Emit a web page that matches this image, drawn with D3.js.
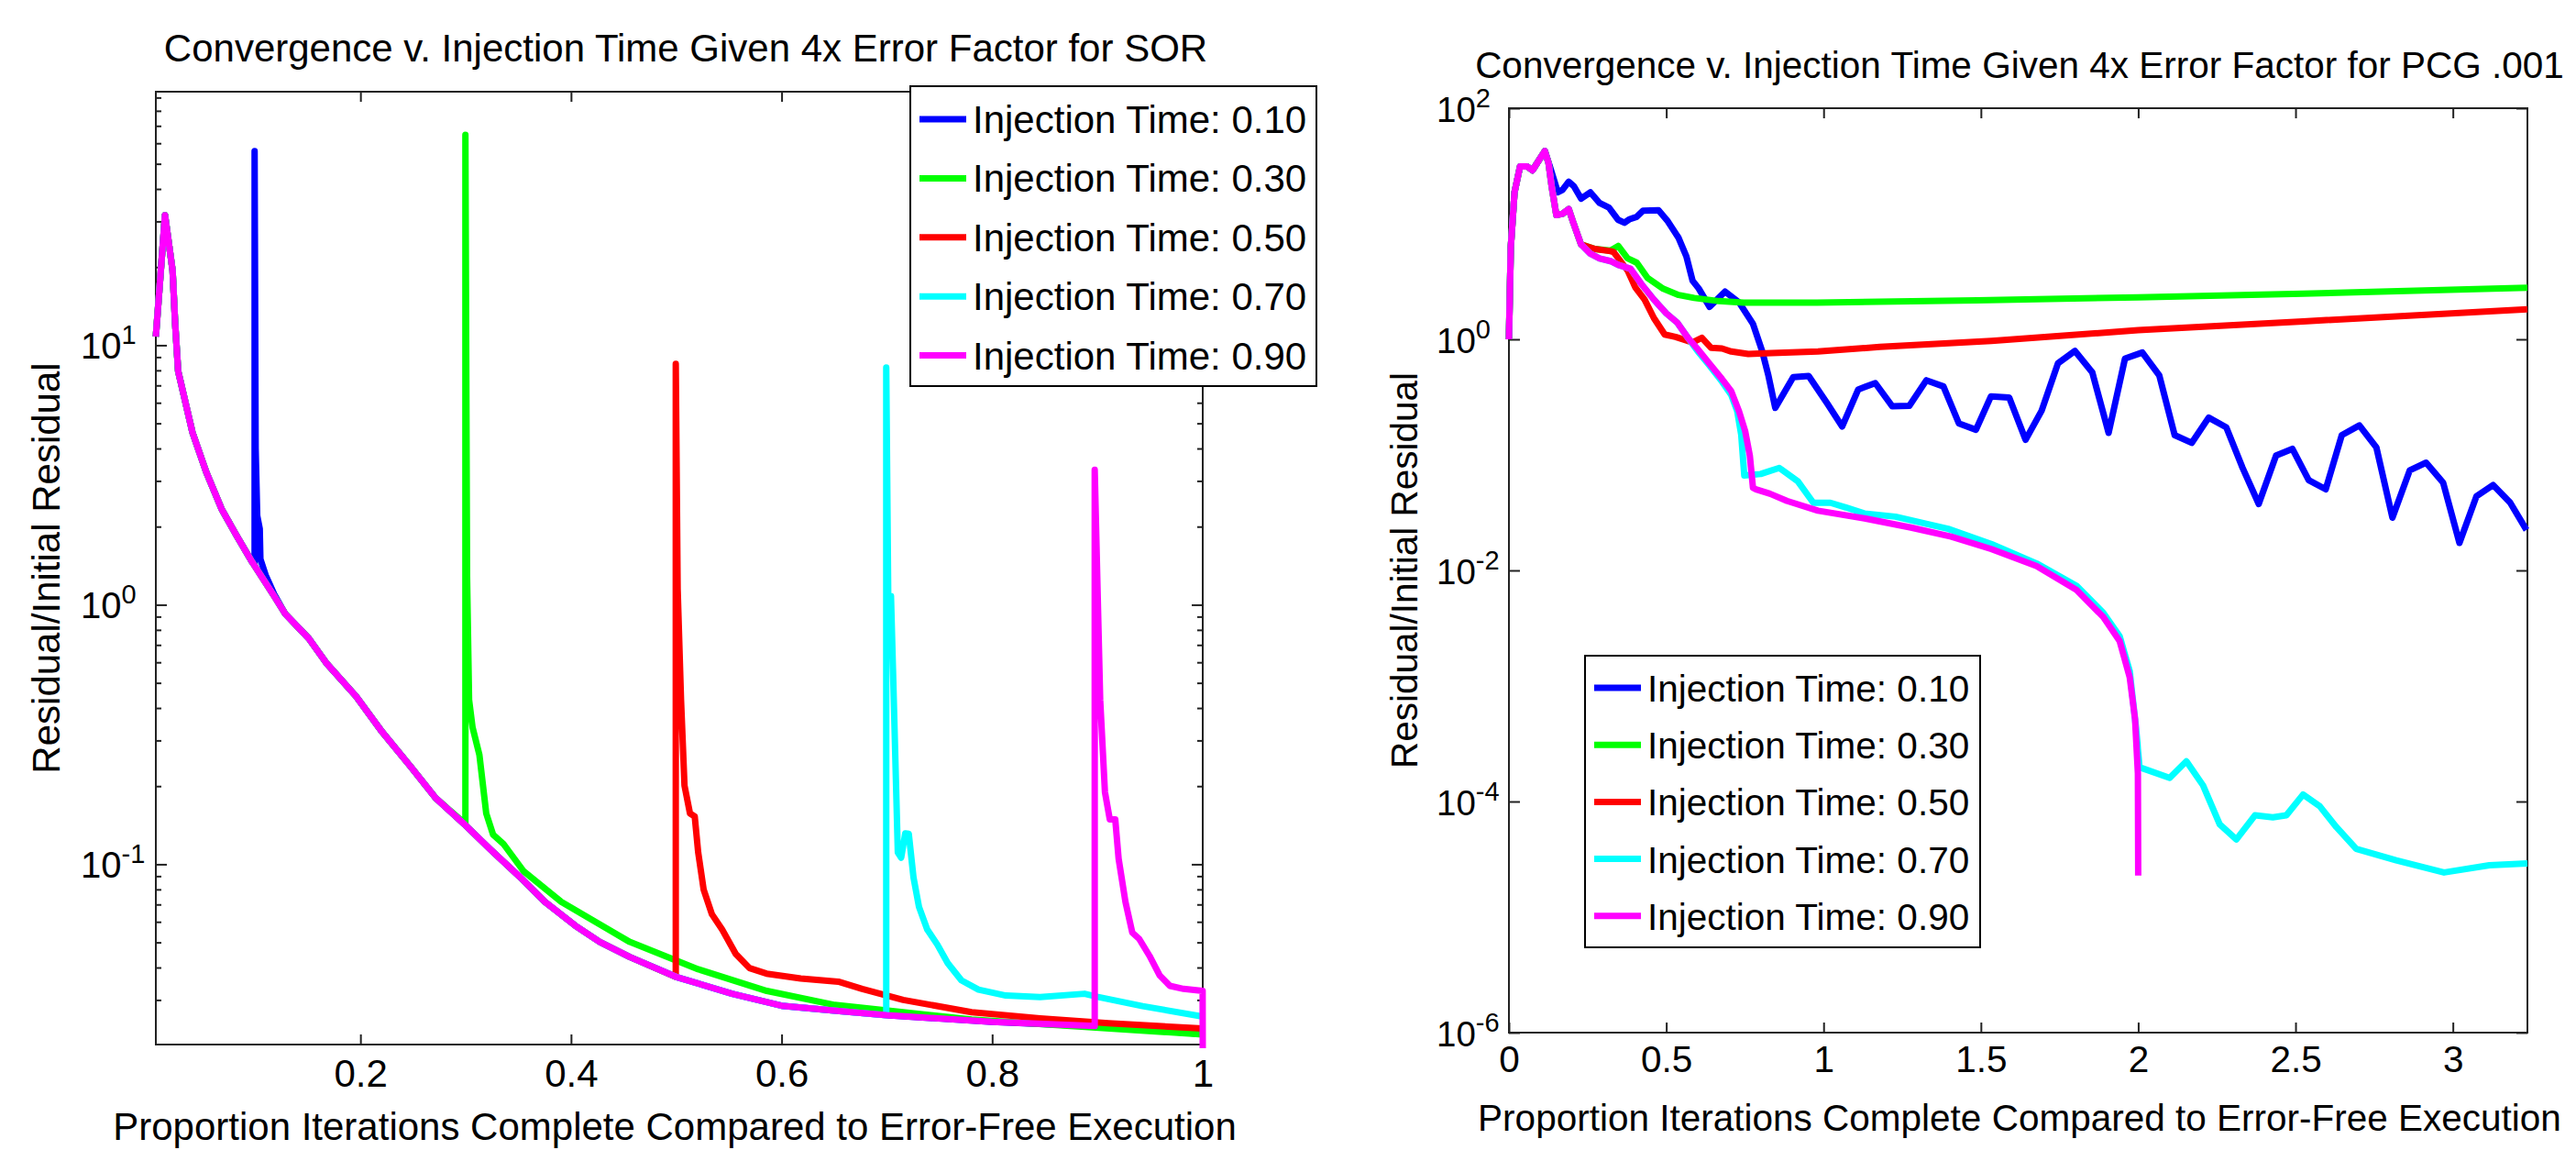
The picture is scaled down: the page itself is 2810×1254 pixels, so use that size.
<!DOCTYPE html>
<html>
<head>
<meta charset="utf-8">
<script src="https://cdn.jsdelivr.net/npm/d3@7"></script>
<style>
body{margin:0;background:#fff;}
svg text{font-family:"Liberation Sans",Arial,Helvetica,sans-serif;fill:#000;}
</style>
</head>
<body>
<div id="chart"></div>
<script>
// ---- datos ----
var legendLabels = ["Injection Time: 0.10","Injection Time: 0.30","Injection Time: 0.50","Injection Time: 0.70","Injection Time: 0.90"];
var colors = ["#0000ff","#00ff00","#ff0000","#00ffff","#ff00ff"];

// SOR: curva comun antes de la inyeccion
var sorBase = [[0.0057,10.8],[0.0144,31.7],[0.0216,19.4],[0.024,12.2],[0.0269,7.94],[0.0405,4.61],[0.0536,3.24],[0.0681,2.34],[0.0826,1.84],[0.0972,1.46],[0.118,1.08],[0.1286,0.922],[0.151,0.741],[0.1675,0.597],[0.196,0.443],[0.2195,0.328],[0.248,0.237],[0.2714,0.18],[0.3,0.141],[0.3234,0.114],[0.352,0.0889],[0.3753,0.0716],[0.404,0.058],[0.4273,0.0502],[0.456,0.0439],[0.5,0.0368],[0.553,0.0317],[0.6,0.0285],[0.65,0.0273],[0.7,0.0262],[0.8,0.0247],[0.9,0.0237],[1.0,0.0222]];
var sorInject = [0.0995, 0.2997, 0.4995, 0.6994, 0.8974];
var sorAfter010 = [[0.0995,1.42],[0.0995,56],[0.1005,4.0],[0.102,2.2],[0.1044,1.96],[0.105,1.5],[0.11,1.3],[0.118,1.1]];
var sorAfter030 = [[0.2997,0.143],[0.2997,64.7],[0.3013,1.28],[0.3032,0.43],[0.3065,0.337],[0.313,0.264],[0.3195,0.157],[0.326,0.13],[0.3357,0.12],[0.355,0.094],[0.3909,0.0716],[0.4558,0.0502],[0.5208,0.0394],[0.586,0.0325],[0.6506,0.0287],[0.7805,0.0252],[1.0,0.0221]];
var sorAfter050 = [[0.4995,0.0368],[0.4995,8.47],[0.5013,1.15],[0.5045,0.43],[0.5078,0.201],[0.513,0.157],[0.5175,0.153],[0.5208,0.111],[0.526,0.0798],[0.5338,0.0642],[0.5435,0.0561],[0.5565,0.0451],[0.5695,0.0398],[0.5857,0.0379],[0.6182,0.0363],[0.6539,0.0353],[0.6766,0.0331],[0.7156,0.03],[0.7805,0.0269],[0.8455,0.0255],[0.9104,0.0244],[1.0,0.0233]];
var sorAfter070 = [[0.6994,0.0262],[0.6994,8.2],[0.7013,1.08],[0.7039,1.08],[0.7058,0.565],[0.7104,0.111],[0.7136,0.106],[0.7175,0.1316],[0.7208,0.131],[0.7253,0.0889],[0.7305,0.0685],[0.7383,0.0561],[0.748,0.049],[0.7578,0.0416],[0.7708,0.0357],[0.787,0.0329],[0.813,0.0312],[0.8455,0.0308],[0.8877,0.0317],[0.9006,0.0308],[0.9429,0.0284],[1.0,0.0259]];
var sorAfter090 = [[0.8974,0.0238],[0.8974,3.31],[0.9026,0.43],[0.9071,0.19],[0.9117,0.149],[0.9169,0.149],[0.9201,0.105],[0.9266,0.0716],[0.9331,0.0545],[0.9396,0.0516],[0.9494,0.0444],[0.9591,0.0373],[0.9688,0.034],[0.9818,0.0331],[0.9999,0.0325],[1.0,0.019]];

// PCG: tramo comun y tramos propios
var pcgCommon = [[0,1],[0.0059,6.24],[0.0177,18.7],[0.0354,31.4],[0.0571,31.4],[0.0748,29.0],[0.1142,42.6]];
var pcgShared = [[0.126,33.4],[0.1358,21.1],[0.1506,11.9],[0.1703,12.2],[0.19,13.4],[0.2047,10.2],[0.2293,6.62]];
var pcgBlue = [[0.13,31.4],[0.1555,18.7],[0.17,19.6],[0.19,23.1],[0.2067,21.1],[0.2293,16.5],[0.2589,18.7],[0.2884,15.1],[0.3179,13.8],[0.3474,10.8],[0.3671,10.2],[0.3819,10.9],[0.4065,11.5],[0.4262,13.0],[0.4754,13.1],[0.505,10.5],[0.5394,7.53],[0.564,5.22],[0.5837,3.21],[0.6033,2.75],[0.6378,1.91],[0.687,2.59],[0.7313,2.09],[0.7756,1.36],[0.8051,0.788],[0.8248,0.484],[0.8465,0.255],[0.9035,0.47],[0.9527,0.481],[1.0118,0.278],[1.0591,0.176],[1.1102,0.368],[1.1644,0.418],[1.2185,0.263],[1.2726,0.266],[1.3268,0.442],[1.381,0.391],[1.4301,0.187],[1.4843,0.165],[1.532,0.321],[1.59,0.314],[1.642,0.135],[1.693,0.241],[1.745,0.621],[1.799,0.793],[1.854,0.518],[1.906,0.155],[1.958,0.681],[2.013,0.769],[2.067,0.487],[2.116,0.148],[2.17,0.127],[2.224,0.21],[2.28,0.173],[2.331,0.078],[2.383,0.0376],[2.438,0.0985],[2.49,0.1127],[2.542,0.0604],[2.596,0.0504],[2.647,0.148],[2.703,0.18],[2.757,0.116],[2.808,0.0286],[2.863,0.0735],[2.915,0.0856],[2.969,0.0576],[3.021,0.0173],[3.075,0.0438],[3.128,0.0548],[3.182,0.0387],[3.234,0.0224]];
var pcgGreen = [[0.2736,6.04],[0.3228,5.86],[0.3474,6.43],[0.3769,5.03],[0.4065,4.6],[0.4409,3.39],[0.4902,2.74],[0.5394,2.42],[0.5886,2.28],[0.6673,2.14],[0.746,2.08],[0.979,2.08],[1.487,2.17],[2.0,2.31],[2.524,2.48],[3.237,2.8]];
var pcgRed = [[0.2736,6.04],[0.3228,5.79],[0.3327,5.69],[0.377,3.95],[0.4016,2.82],[0.4311,2.21],[0.4606,1.53],[0.4951,1.1],[0.5295,1.05],[0.5837,0.941],[0.6132,1.03],[0.6427,0.843],[0.6772,0.833],[0.7067,0.784],[0.7608,0.746],[0.8346,0.76],[0.9823,0.784],[1.1791,0.859],[1.5335,0.97],[2.0,1.2],[2.524,1.43],[3.237,1.82]];
var pcgSlow = [[0.2589,5.5],[0.2884,5.0],[0.3228,4.75],[0.3474,4.4],[0.3868,4.07],[0.4213,3.0],[0.4606,2.21],[0.5,1.68],[0.5344,1.4],[0.5689,1.03]];
var pcgCyan = [[0.5984,0.8],[0.6378,0.59],[0.6772,0.43],[0.7067,0.33],[0.7254,0.24],[0.7382,0.15],[0.748,0.0662],[0.8,0.0683],[0.8593,0.0771],[0.9183,0.059],[0.9675,0.0385],[1.0217,0.0385],[1.0709,0.0351],[1.13,0.0311],[1.2284,0.0292],[1.3957,0.0229],[1.5335,0.0169],[1.677,0.0115],[1.804,0.00737],[1.889,0.0043],[1.941,0.0027],[1.973,0.00134],[1.994,0.00041],[2.004,0.000198],[2.1,0.00016],[2.153,0.000223],[2.206,0.000138],[2.259,0.0000634],[2.312,0.000047],[2.371,0.000076],[2.428,0.000073],[2.471,0.000076],[2.524,0.000115],[2.577,0.000091],[2.63,0.00006],[2.693,0.000039],[2.82,0.000031],[2.972,0.0000243],[3.116,0.0000281],[3.237,0.0000291]];
var pcgMagenta = [[0.5984,0.833],[0.6378,0.614],[0.6772,0.453],[0.7067,0.355],[0.7313,0.238],[0.751,0.16],[0.7657,0.0985],[0.7756,0.0519],[0.7854,0.0503],[0.8297,0.0461],[0.8839,0.0399],[0.9823,0.0329],[1.13,0.0282],[1.2776,0.0235],[1.4055,0.0196],[1.5335,0.0153],[1.677,0.0109],[1.804,0.00678],[1.889,0.00395],[1.941,0.00245],[1.973,0.00119],[1.99,0.000516],[1.999,0.000175],[2.0,0.0000229]];

var sorXTicks = [0.2,0.4,0.6,0.8,1];
var sorYTicks = [0.1,1,10];
var pcgXTicks = [0,0.5,1,1.5,2,2.5,3];
var pcgYTicks = [1e-6,1e-4,1e-2,1,100];

// ---- montaje de series ----
function sorSeries(t, after){
    var last = after[after.length-1][0];
    return sorBase.filter(d=>d[0] < t).concat(after).concat(sorBase.filter(d=>d[0] > last));
}
var sorData = [sorAfter010,sorAfter030,sorAfter050,sorAfter070,sorAfter090].map((a,i)=>sorSeries(sorInject[i],a));

var pcgData = [
    pcgCommon.concat(pcgBlue),
    pcgCommon.concat(pcgShared,pcgGreen),
    pcgCommon.concat(pcgShared,pcgRed),
    pcgCommon.concat(pcgShared,pcgSlow,pcgCyan),
    pcgCommon.concat(pcgShared,pcgSlow,pcgMagenta)
];

var svg = d3.select('#chart').append('svg').attr('width',2810).attr('height',1254);

function panel(p){
    var x = d3.scaleLinear().domain(p.xDomain).range([p.left,p.right]);
    var y = d3.scaleLog().domain(p.yDomain).range([p.bottom,p.top]);
    var g = svg.append('g');
    var fs = p.fs;

    //Marco
    g.append('rect')
        .attr('x',p.left).attr('y',p.top)
        .attr('width',p.right-p.left).attr('height',p.bottom-p.top)
        .attr('fill','none').attr('stroke','#222').attr('stroke-width',2);

    //Ticks (hacia dentro)
    var minor = [];
    if(p.minor){
        var lo = Math.floor(Math.log10(p.yDomain[0])), hi = Math.ceil(Math.log10(p.yDomain[1]));
        for(var e=lo;e<hi;e++) for(var k=2;k<10;k++){
            var v = k*Math.pow(10,e);
            if(v>p.yDomain[0] && v<p.yDomain[1]) minor.push(v);
        }
    }
    function ax(axis, tr){
        var a = g.append('g').attr('transform',tr).call(axis);
        a.select('.domain').remove();
        a.selectAll('line').attr('stroke','#222').attr('stroke-width',2);
        return a;
    }
    ax(d3.axisBottom(x).tickValues(p.xTicks).tickSize(-11).tickSizeOuter(0).tickPadding(p.xPad).tickFormat(d=>String(d)), 'translate(0,'+p.bottom+')')
        .selectAll('text').attr('font-size',fs).attr('fill','#000').attr('font-family','"Liberation Sans",Arial,sans-serif');
    ax(d3.axisTop(x).tickValues(p.xTicks).tickSize(-11).tickSizeOuter(0).tickFormat(''), 'translate(0,'+p.top+')');
    ax(d3.axisLeft(y).tickValues(p.yTicks).tickSize(-12).tickSizeOuter(0).tickFormat(''), 'translate('+p.left+',0)');
    ax(d3.axisRight(y).tickValues(p.yTicks).tickSize(-12).tickSizeOuter(0).tickFormat(''), 'translate('+p.right+',0)');
    if(minor.length){
        ax(d3.axisLeft(y).tickValues(minor).tickSize(-6).tickSizeOuter(0).tickFormat(''), 'translate('+p.left+',0)');
        ax(d3.axisRight(y).tickValues(minor).tickSize(-6).tickSizeOuter(0).tickFormat(''), 'translate('+p.right+',0)');
    }

    //Etiquetas eje Y: 10^n
    var yl = g.append('g').selectAll('text').data(p.yTicks).enter()
        .append('text')
        .attr('x',p.yLabX)
        .attr('y',d=>y(d)+15)
        .attr('font-size',fs-2);
    yl.append('tspan').text('10');
    yl.append('tspan').attr('dy',-16).attr('font-size',29).text(d=>Math.round(Math.log10(d)));

    //Lineas
    var clipId = 'clip'+p.id;
    svg.append('clipPath').attr('id',clipId).append('rect')
        .attr('x',p.left-4).attr('y',p.top-4)
        .attr('width',p.right-p.left+8).attr('height',p.bottom-p.top+8);
    var linea = d3.line().x(d=>x(d[0])).y(d=>y(d[1]));
    g.append('g').attr('clip-path','url(#'+clipId+')')
        .selectAll('path').data(p.data).enter()
        .append('path')
        .attr('d',d=>linea(d))
        .attr('fill','none')
        .attr('stroke',(d,i)=>colors[i])
        .attr('stroke-width',7)
        .attr('stroke-linejoin','round');

    //Titulos
    g.append('text').attr('x',p.titleX).attr('y',p.titleY)
        .attr('text-anchor','middle').attr('font-size',fs).text(p.title);
    g.append('text').attr('x',p.xLabelX).attr('y',p.xLabelY)
        .attr('text-anchor','middle').attr('font-size',fs)
        .text('Proportion Iterations Complete Compared to Error-Free Execution');
    g.append('text')
        .attr('transform','translate('+p.yLabelX+','+((p.top+p.bottom)/2)+') rotate(-90)')
        .attr('text-anchor','middle').attr('font-size',fs)
        .text('Residual/Initial Residual');

    //Leyenda
    var L = p.legend;
    var lg = g.append('g');
    lg.append('rect').attr('x',L.x).attr('y',L.y).attr('width',L.w).attr('height',L.h)
        .attr('fill','#fff').attr('stroke','#000').attr('stroke-width',2);
    var rows = lg.selectAll('.fila').data(legendLabels).enter().append('g')
        .attr('transform',(d,i)=>'translate(0,'+(L.row0+i*L.step)+')');
    rows.append('line').attr('x1',L.x+10).attr('x2',L.x+61).attr('y1',0).attr('y2',0)
        .attr('stroke',(d,i)=>colors[i]).attr('stroke-width',7);
    rows.append('text').attr('x',L.x+68).attr('y',15).attr('font-size',fs).text(d=>d);
}

panel({
    id:'sor', left:170, right:1312, top:100, bottom:1139,
    xDomain:[0.0057,1], yDomain:[0.0202,94.8],
    xTicks:sorXTicks, yTicks:sorYTicks, minor:true, xPad:16, fs:42,
    yLabX:88, data:sorData,
    title:'Convergence v. Injection Time Given 4x Error Factor for SOR', titleX:748, titleY:67,
    xLabelX:736, xLabelY:1243, yLabelX:65,
    legend:{x:993, y:94, w:443, h:327, row0:130, step:64.4}
});

panel({
    id:'pcg', left:1646, right:2757, top:118, bottom:1126,
    xDomain:[0,3.237], yDomain:[1e-6,100],
    xTicks:pcgXTicks, yTicks:pcgYTicks, minor:false, xPad:14, fs:40.5,
    yLabX:1567, data:pcgData,
    title:'Convergence v. Injection Time Given 4x Error Factor for PCG .001', titleX:2203, titleY:85,
    xLabelX:2203, xLabelY:1233, yLabelX:1546,
    legend:{x:1729, y:715, w:431, h:318, row0:750, step:62.2}
});
</script>
</body>
</html>
